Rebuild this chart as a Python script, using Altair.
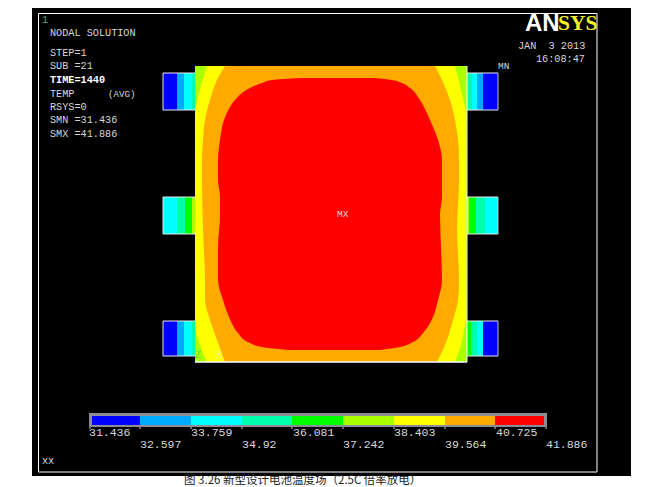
import altair as alt
import pandas as pd

# colour levels of the contour plot (index = level)
palette = ["#0000ff", "#00aaff", "#00ffff", "#00ffaa", "#00ff00",
           "#aaff00", "#ffff00", "#ffaa00", "#ff0000"]

# Contour outlines: row, left edge, right edge
yellow_y = [66, 90, 117, 320, 325, 345, 362]
yellow_l = [207, 200, 195, 195, 195, 200, 207]
yellow_r = [455, 461, 466, 466, 465, 461, 455]

orange_y = [66, 80, 100, 120, 140, 160, 180, 230, 280, 300, 320, 340, 362]
orange_l = [225, 217, 210, 205, 203, 202, 202, 203, 205, 205, 210, 217, 225]
orange_r = [435, 442, 450, 455, 458, 459, 459, 457, 459, 458, 453, 447, 437]

red_y = [78, 80, 83, 88, 100, 107, 120, 140, 160, 180, 197, 215, 247, 280, 300, 317, 333, 342, 347, 350]
red_l = [300, 272, 262, 250, 235, 230, 224, 220, 218, 218, 220, 220, 218, 218, 223, 229, 238, 248, 262, 290]
red_r = [375, 392, 402, 410, 420, 424, 430, 438, 442, 442, 442, 440, 441, 442, 438, 433, 423, 413, 400, 380]

# Terminal tabs: top, bottom, colour bands (left edge, right edge, level)
tab_top = [73, 197, 321]
tab_bot = [110, 234, 356]
left_tabs = [
    [(163, 177, 0), (177, 184, 1), (184, 192, 2), (192, 195, 3)],
    [(163, 177, 2), (177, 185, 3), (185, 192, 4), (192, 195, 5)],
    [(163, 177, 0), (177, 184, 1), (184, 192, 2), (192, 195, 3)],
]
right_tabs = [
    [(467, 472, 3), (472, 477, 2), (477, 483, 1), (483, 498, 0)],
    [(467, 469, 5), (469, 476, 4), (476, 485, 3), (485, 498, 2)],
    [(467, 471, 4), (471, 477, 3), (477, 483, 2), (483, 498, 0)],
]

# Colour bar
bar_edges = [92, 140, 191, 242, 292, 343, 394, 445, 495, 544]
bar_ticks = [90, 140, 191, 242, 292, 343, 394, 445, 495, 546]
bar_labels_upper = ["31.436", "33.759", "36.081", "38.403", "40.725"]
bar_labels_lower = ["32.597", "34.92", "37.242", "39.564", "41.886"]
upper_x = [89, 191, 293, 394, 496]
lower_x = [140, 242, 343, 445, 546]

# Status text
status_lines = ["NODAL SOLUTION", "STEP=1", "SUB =21", "TEMP", "RSYS=0", "SMN =31.436", "SMX =41.886"]
status_y = [33, 53, 66, 94, 107, 120, 134]

xs = alt.Scale(domain=[8, 647], nice=False, zero=False)
ys = alt.Scale(domain=[487, 8], nice=False, zero=False)
cs = alt.Scale(domain=list(range(9)), range=palette)


def X(f="x"):
    return alt.X(f"{f}:Q", scale=xs, axis=None)


def Y(f="y"):
    return alt.Y(f"{f}:Q", scale=ys, axis=None)


def C():
    return alt.Color("lvl:O", scale=cs, legend=None)


def rects(rows, **mark):
    return alt.Chart(pd.DataFrame(rows)).mark_rect(**mark).encode(
        x=X("x"), x2="x2:Q", y=Y("y"), y2="y2:Q")


def level_rects(rows):
    return alt.Chart(pd.DataFrame(rows)).mark_rect(strokeWidth=0).encode(
        x=X("x"), x2="x2:Q", y=Y("y"), y2="y2:Q", color=C())


def contour(ys_, ls, rs, color):
    df = pd.DataFrame({"y": ys_, "l": ls, "r": rs})
    return alt.Chart(df).mark_area(color=color, opacity=1, orient="horizontal",
                                   interpolate="monotone").encode(
        y=Y("y"), x=X("l"), x2="r:Q")


def hrule(x, x2, y, color="#ffffff", w=1):
    return alt.Chart(pd.DataFrame({"x": [x], "x2": [x2], "y": [y]})).mark_rule(
        color=color, strokeWidth=w).encode(x=X("x"), x2="x2:Q", y=Y("y"))


def vrule(x, y, y2, color="#ffffff", w=1):
    return alt.Chart(pd.DataFrame({"x": [x], "y": [y], "y2": [y2]})).mark_rule(
        color=color, strokeWidth=w).encode(x=X("x"), y=Y("y"), y2="y2:Q")


def texts(xs_, ys_, labels, color="#d8d8d8", font="Liberation Mono", size=10.2, **kw):
    df = pd.DataFrame({"x": xs_, "y": ys_, "t": labels})
    return alt.Chart(df).mark_text(color=color, font=font, fontSize=size, align="left",
                                   baseline="middle", **kw).encode(
        x=X("x"), y=Y("y"), text="t:N")


layers = []

# Black panel and frame
layers.append(rects([{"x": 32, "x2": 631, "y": 8, "y2": 476}], color="#000000", strokeWidth=0))
layers.append(rects([{"x": 38.5, "x2": 597, "y": 13.5, "y2": 472}],
                    filled=False, stroke="#ffffff", strokeWidth=1))

# Tabs
tab_rows = []
for group in (left_tabs, right_tabs):
    for top, bot, bands in zip(tab_top, tab_bot, group):
        for a, b, lvl in bands:
            tab_rows.append({"x": a, "x2": b, "y": top, "y2": bot, "lvl": lvl})
layers.append(level_rects(tab_rows))
for top, bot in zip(tab_top, tab_bot):
    layers.append(hrule(163, 195, top, "#e8e8e8"))
    layers.append(hrule(163, 195, bot, "#e8e8e8"))
    layers.append(vrule(163, top, bot, "#e8e8e8"))
    layers.append(hrule(467, 498, top, "#e8e8e8"))
    layers.append(hrule(467, 498, bot, "#e8e8e8"))
    layers.append(vrule(498, top, bot, "#c8c8c8"))

# Body and contour bands
layers.append(level_rects([{"x": 195, "x2": 467, "y": 66, "y2": 362, "lvl": 5}]))
layers.append(contour(yellow_y, yellow_l, yellow_r, palette[6]))
layers.append(contour(orange_y, orange_l, orange_r, palette[7]))
layers.append(contour(red_y, red_l, red_r, palette[8]))
layers.append(hrule(195, 467, 362, "#ffffff", 1.5))
layers.append(vrule(467, 66, 362, "#ffffff", 1))

# Colour bar
layers.append(rects([{"x": 89, "x2": 547, "y": 413, "y2": 427}], color="#8c8c96", strokeWidth=0))
layers.append(level_rects([{"x": a, "x2": b, "y": 416, "y2": 425, "lvl": i}
                           for i, (a, b) in enumerate(zip(bar_edges[:-1], bar_edges[1:]))]))
for t in bar_ticks:
    layers.append(vrule(t, 427, 429, "#cccccc"))

layers.append(texts(upper_x, [433] * 5, bar_labels_upper, size=11.5))
layers.append(texts(lower_x, [445] * 5, bar_labels_lower, size=11.5))

# Text blocks
layers.append(texts([50] * 7, status_y, status_lines))
layers.append(texts([50], [80], ["TIME=1440"], color="#ffffff", fontWeight="bold"))
layers.append(texts([108], [94], ["(AVG)"], size=9.2))
layers.append(texts([42], [20], ["1"], color="#55aa88"))
layers.append(texts([518], [46], ["JAN\u00a0\u00a03 2013"]))
layers.append(texts([536], [59], ["16:08:47"]))
layers.append(texts([498], [66], ["MN"], size=9.5))
layers.append(texts([337], [214], ["MX"], size=9.5))
layers.append(texts([42], [461], ["xx"]))
layers.append(texts([195], [355], ["Z"], color="#66dd66"))
layers.append(texts([216], [355], ["X"], color="#ffeeaa"))

# Logo
layers.append(texts([525], [24], ["AN"], color="#ffffff", font="Liberation Sans", size=24,
                    fontWeight="bold"))
layers.append(texts([558], [24], ["SYS"], color="#f2f22a", font="Liberation Serif", size=21.5,
                    fontWeight="bold"))

# Caption
layers.append(texts([184], [481], ["图 3.26  新型设计电池温度场（2.5C  倍率放电）"], color="#222222",
                    font="Noto Sans CJK SC", size=11.5))

chart = alt.layer(*layers).resolve_scale(color="shared").properties(
    width=639, height=479, padding=0, background="#ffffff",
    autosize=alt.AutoSizeParams(type="none"),
).configure_view(stroke=None)

chart.save("out.html", embed_options={"renderer": "svg", "actions": False})
